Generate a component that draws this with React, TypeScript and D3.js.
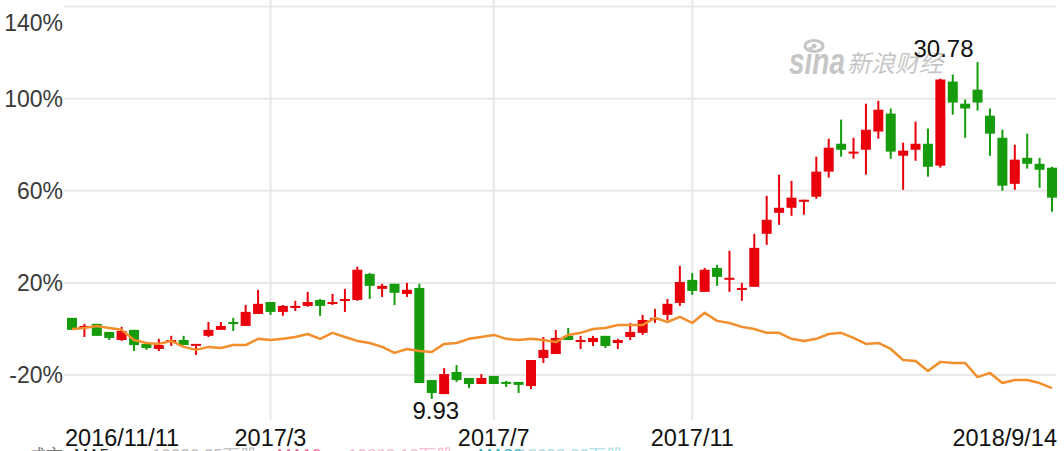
// Weekly candlestick chart (percent change) with a comparison index line.
// Plain SVG driven by d3 scales, laid out like the Sina finance K-line widget.

import { useMemo } from "react";
import * as d3 from "d3";

const BASE_PRICE = 14.26;

// OHLC in percent vs base price, one entry per week
const OPEN = [
  4.8, 0.4, 2.2, -1.3, -4.8, -0.4, -6.5, -8.7, -5.2, -4.8,
  -7.0, -3.0, -0.4, 3.0, 1.3, 6.5, 11.7, 7.4, 9.1, 10.0,
  12.6, 10.9, 12.6, 12.6, 23.9, 17.4, 19.6, 15.2, 17.8, -22.2,
  -28.3, -18.7, -21.3, -23.9, -20.4, -23.0, -23.0, -24.8, -12.6, -10.9,
  -3.0, -5.7, -5.7, -3.0, -6.1, -3.5, -1.7, 3.9, 6.1, 11.3,
  21.3, 16.1, 26.5, 21.7, 17.4, 18.3, 41.3, 50.4, 52.6, 55.2,
  57.4, 68.3, 80.4, 76.1, 77.8, 85.7, 93.5, 75.2, 77.8, 80.4,
  70.9, 107.4, 97.8, 103.9, 92.6, 83.0, 63.0, 74.3, 71.7, 70.0,
];
const HIGH = [
  4.8, 2.2, 2.2, -1.3, 0.9, -0.4, -6.5, -4.3, -3.0, -3.0,
  -6.5, 3.0, 3.0, 4.8, 10.4, 17.0, 11.7, 10.4, 12.2, 16.1,
  13.0, 15.2, 17.4, 27.0, 24.3, 19.6, 19.6, 20.0, 19.6, -22.2,
  -17.0, -15.7, -21.3, -19.6, -20.4, -22.6, -23.0, -13.5, -3.5, -0.4,
  0.4, -3.0, -3.0, -3.0, -4.3, 2.6, 6.1, 8.7, 13.0, 27.4,
  24.3, 26.5, 27.8, 33.9, 20.0, 41.3, 57.8, 67.0, 64.3, 56.1,
  74.8, 82.6, 90.9, 83.0, 97.8, 99.1, 95.7, 80.9, 90.0, 87.0,
  108.7, 110.4, 99.6, 115.85, 95.7, 86.5, 80.0, 84.8, 74.3, 70.4,
];
const LOW = [
  -0.4, -3.5, -3.0, -4.8, -5.2, -9.6, -9.1, -9.6, -7.4, -7.0,
  -11.3, -3.5, -0.4, -0.9, 1.3, 6.5, 6.1, 5.7, 7.8, 9.6,
  5.7, 10.4, 7.4, 12.2, 13.0, 13.9, 10.4, 13.9, -23.5, -30.36,
  -28.3, -23.0, -25.7, -23.9, -23.9, -25.2, -27.8, -26.1, -14.8, -10.9,
  -4.8, -8.7, -7.4, -8.3, -8.7, -4.8, -2.6, 2.6, 3.9, 10.0,
  14.8, 16.1, 18.7, 16.1, 12.2, 18.3, 36.5, 45.2, 49.1, 49.6,
  56.5, 65.7, 74.8, 73.9, 67.0, 82.6, 73.9, 60.4, 73.0, 66.1,
  70.0, 93.0, 83.0, 94.8, 75.2, 60.0, 60.4, 69.6, 61.3, 50.9,
];
const CLOSE = [
  -0.4, 1.3, -3.0, -3.9, -0.9, -7.0, -8.3, -7.0, -4.8, -7.0,
  -6.5, -0.4, 1.3, 2.6, 7.4, 10.9, 7.4, 10.0, 10.0, 11.7,
  10.0, 11.7, 13.0, 25.7, 18.7, 18.7, 15.7, 17.0, -23.5, -27.8,
  -19.6, -22.2, -23.9, -21.3, -23.9, -23.5, -24.3, -13.5, -9.1, -3.9,
  -4.8, -4.8, -3.9, -7.4, -4.8, -1.3, 3.9, 4.8, 10.9, 20.4,
  16.5, 25.7, 22.6, 22.2, 17.8, 35.2, 47.4, 52.6, 57.0, 56.1,
  68.3, 78.7, 77.8, 77.0, 86.5, 95.2, 77.0, 77.4, 80.4, 70.4,
  108.3, 98.3, 95.7, 98.3, 84.8, 62.2, 73.5, 71.7, 69.1, 57.0,
];

// comparison index, percent change over the same weeks
const INDEX_PCT = [
  0.0, 0.4, 1.3, 0.4, -0.4, -4.8, -6.1, -6.5, -5.2, -7.8,
  -9.1, -7.8, -8.3, -7.0, -7.0, -4.3, -4.8, -4.3, -3.5, -2.2,
  -4.3, -1.7, -3.5, -5.2, -6.1, -7.8, -10.4, -8.7, -9.6, -10.0,
  -6.5, -6.1, -4.3, -3.5, -2.6, -4.3, -4.8, -4.3, -4.8, -5.7,
  -2.6, -1.7, 0.0, 0.4, 1.7, 1.7, 1.7, 4.8, 3.0, 5.2,
  2.6, 7.0, 3.5, 2.6, 0.9, 0.0, -1.7, -1.7, -4.3, -5.2,
  -4.3, -2.2, -1.7, -3.9, -6.5, -6.1, -8.7, -13.5, -13.9, -18.3,
  -14.3, -14.8, -14.8, -20.9, -19.1, -23.5, -22.2, -22.2, -23.5, -25.7,
];

const Y_TICKS = [-20, 20, 60, 100, 140];
const X_TICK_IDX = [0, 16, 34, 50, 79];
const X_TICK_LABELS = ["2016/11/11", "2017/3", "2017/7", "2017/11", "2018/9/14"];

// volume legend row below the frame (only its top pixels show)
const LEGEND_TEXT = ["成交", "MA5:", "10326.25万股", "MA10:", "12808.18万股", "MA20:", "12698.83万股"];
const LEGEND_COLORS = ["#777", "#333", "#bbb", "#f06a9a", "#f7b8cf", "#2fb3c9", "#a9dde6"];
const LEGEND_X = [29, 74, 152, 277, 348, 478, 518];

const RED = "#e8000b";
const GREEN = "#159b0b";
const ORANGE = "#f28e2b";
const GRID = "#e8e8e8";
const FONT = "'Liberation Sans', Arial, sans-serif";

export default function App() {
  const width = 1064;
  const height = 451;
  const left = 64;
  const right = 1056;

  const candles = useMemo(
    () => OPEN.map((o, i) => ({ i, o, h: HIGH[i], l: LOW[i], c: CLOSE[i] })),
    []
  );

  const x = d3
    .scalePoint<number>()
    .domain(candles.map((d) => d.i))
    .range([72, 1052]);
  const y = d3.scaleLinear().domain([-20, 140]).range([375, 6.5]);

  const line = d3
    .line<number>()
    .x((_, i) => x(i) as number)
    .y((v) => y(v));

  const lowIdx = d3.minIndex(LOW);
  const highIdx = d3.maxIndex(HIGH);
  const price = (p: number) => (BASE_PRICE * (1 + p / 100)).toFixed(2);

  const bodyW = 10;

  return (
    <svg
      width={width}
      height={height}
      style={{ position: "absolute", left: 0, top: 0, background: "#fff" }}
      fontFamily={FONT}
    >
      {/* horizontal grid + y labels */}
      {Y_TICKS.map((t) => (
        <g key={t}>
          <line x1={left} x2={right} y1={y(t)} y2={y(t)} stroke={GRID} strokeWidth={2} />
          <text
            x={63}
            y={Math.max(y(t), 23)}
            textAnchor="end"
            dominantBaseline="central"
            fontSize={23}
            fill="#3a3a3a"
          >
            {t}%
          </text>
        </g>
      ))}

      {/* vertical grid on the inner date ticks */}
      {X_TICK_IDX.slice(1, -1).map((i) => (
        <line
          key={i}
          x1={x(i)}
          x2={x(i)}
          y1={0}
          y2={420}
          stroke={GRID}
          strokeWidth={2}
        />
      ))}

      {/* watermark */}
      <g fill="#c6c6c6">
        <ellipse cx={814} cy={46} rx={9} ry={5.5} fill="none" stroke="#c6c6c6" strokeWidth={3} />
        <circle cx={814} cy={46} r={2.5} />
        <text
          x={789}
          y={74}
          fontSize={36}
          fontWeight="bold"
          fontStyle="italic"
          textLength={56}
          lengthAdjust="spacingAndGlyphs"
        >
          sina
        </text>
        <text
          x={847}
          y={72}
          fontSize={24}
          fontStyle="italic"
          fontFamily="'Noto Sans CJK SC', sans-serif"
        >
          新浪财经
        </text>
      </g>

      {/* candles */}
      {candles.map((d) => {
        const cx = x(d.i) as number;
        const up = d.c >= d.o;
        const col = up ? RED : GREEN;
        const top = y(Math.max(d.o, d.c));
        const bh = Math.max(2, y(Math.min(d.o, d.c)) - top);
        return (
          <g key={d.i}>
            <rect x={cx - 1} y={y(d.h)} width={2} height={y(d.l) - y(d.h)} fill={col} />
            <rect x={cx - bodyW / 2} y={top} width={bodyW} height={bh} fill={col} />
          </g>
        );
      })}

      {/* comparison index */}
      <path
        d={line(INDEX_PCT) ?? ""}
        fill="none"
        stroke={ORANGE}
        strokeWidth={2.5}
        strokeLinejoin="round"
      />

      {/* extreme price labels */}
      <text
        x={(x(lowIdx) as number) + 4}
        y={419}
        textAnchor="middle"
        fontSize={24}
        fill="#111"
      >
        {price(LOW[lowIdx])}
      </text>
      <text
        x={(x(highIdx) as number) - 4}
        y={57}
        textAnchor="end"
        fontSize={24}
        fill="#111"
      >
        {price(HIGH[highIdx])}
      </text>

      {/* date labels */}
      {X_TICK_IDX.map((i, k) => {
        const first = k === 0;
        const last = k === X_TICK_IDX.length - 1;
        return (
          <text
            key={i}
            x={first ? 65 : last ? 1057 : (x(i) as number)}
            y={446}
            textAnchor={first ? "start" : last ? "end" : "middle"}
            fontSize={23.5}
            fill="#111"
          >
            {X_TICK_LABELS[k]}
          </text>
        );
      })}

      {/* volume legend, mostly cut off by the frame */}
      {LEGEND_TEXT.map((t, k) => (
        <text key={k} x={LEGEND_X[k]} y={461} fontSize={17} fill={LEGEND_COLORS[k]}>
          {t}
        </text>
      ))}
    </svg>
  );
}
